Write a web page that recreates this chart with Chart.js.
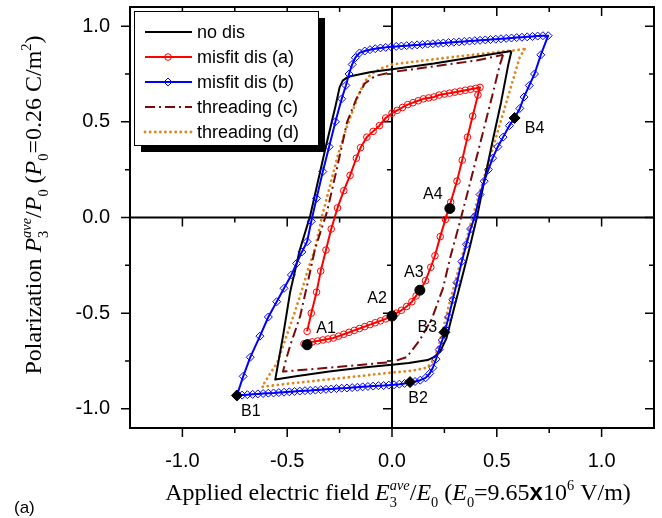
<!DOCTYPE html>
<html>
<head>
<meta charset="utf-8">
<script src="https://cdn.jsdelivr.net/npm/chart.js@4.4.1/dist/chart.umd.min.js"></script>
<style>
  html, body { margin: 0; padding: 0; background: #fff; }
</style>
</head>
<body>
<canvas id="chart" width="662" height="518"></canvas>
<script>
// values
const xTicks = [-1.0, -0.5, 0.0, 0.5, 1.0];
const yTicks = [-1.0, -0.5, 0.0, 0.5, 1.0];

const seriesNames = ['no dis', 'misfit dis (a)', 'misfit dis (b)', 'threading (c)', 'threading (d)'];

const noDisX = [0.57, 0.555, 0.52, 0.48, 0.44, 0.405, 0.37, 0.33, 0.29, 0.26, 0.23, 0.20, 0.17, 0.08, 0.0, -0.15, -0.30, -0.45, -0.557,
  -0.52, -0.486, -0.44, -0.39, -0.32, -0.27, -0.25, -0.235, -0.21, -0.1, 0.0, 0.2, 0.4, 0.57];
const noDisY = [0.87, 0.80, 0.60, 0.40, 0.19, 0.0, -0.16, -0.33, -0.50, -0.63, -0.70, -0.73, -0.745, -0.76, -0.77, -0.785, -0.805, -0.828, -0.847,
  -0.62, -0.39, -0.17, 0.01, 0.35, 0.58, 0.68, 0.715, 0.735, 0.76, 0.775, 0.805, 0.84, 0.87];

const misfitAX = [-0.42, -0.40, -0.38, -0.355, -0.33, -0.305, -0.28, -0.255, -0.23, -0.205, -0.18, -0.155, -0.13, -0.105, -0.08, -0.055, -0.03, -0.005,
  0.02, 0.045, 0.07, 0.095, 0.115, 0.135, 0.16, 0.185, 0.205, 0.23, 0.255, 0.28, 0.31, 0.335, 0.36, 0.385, 0.41, 0.42,
  0.40, 0.375, 0.35, 0.325, 0.30, 0.275, 0.25, 0.225, 0.20, 0.175, 0.15, 0.125, 0.10, 0.075, 0.05, 0.025, 0.0,
  -0.03, -0.06, -0.09, -0.12, -0.15, -0.17, -0.20, -0.23, -0.26, -0.29, -0.315, -0.34, -0.36, -0.385, -0.405];
const misfitAY = [-0.66, -0.655, -0.65, -0.645, -0.64, -0.635, -0.63, -0.62, -0.61, -0.60, -0.59, -0.58, -0.57, -0.56, -0.55, -0.54, -0.53, -0.515,
  -0.50, -0.485, -0.465, -0.44, -0.41, -0.38, -0.33, -0.26, -0.20, -0.10, -0.01, 0.08, 0.19, 0.30, 0.42, 0.53, 0.64, 0.68,
  0.675, 0.67, 0.665, 0.66, 0.655, 0.65, 0.645, 0.64, 0.63, 0.625, 0.62, 0.61, 0.60, 0.59, 0.575, 0.56, 0.545,
  0.52, 0.48, 0.45, 0.42, 0.365, 0.31, 0.22, 0.14, 0.05, -0.06, -0.17, -0.28, -0.39, -0.50, -0.595];

const misfitBX = [-0.74, -0.715, -0.69, -0.665, -0.64, -0.615, -0.59, -0.565, -0.54, -0.515, -0.49, -0.465, -0.44, -0.415, -0.39, -0.365,
  -0.34, -0.315, -0.29, -0.265, -0.24, -0.215, -0.19, -0.165, -0.14, -0.115, -0.09, -0.065, -0.04, -0.015, 0.01, 0.035, 0.06, 0.085,
  0.11, 0.135, 0.16,
  0.18, 0.195, 0.21, 0.225, 0.24, 0.255, 0.27, 0.29, 0.31, 0.333, 0.355, 0.375, 0.395, 0.42, 0.44, 0.46, 0.48, 0.505, 0.53, 0.56,
  0.585, 0.61, 0.63, 0.655, 0.68, 0.71, 0.745,
  0.72, 0.695, 0.67, 0.645, 0.62, 0.595, 0.57, 0.545, 0.52, 0.495, 0.47, 0.445, 0.42, 0.395, 0.37, 0.345, 0.32, 0.295, 0.27, 0.245,
  0.22, 0.195, 0.17, 0.145, 0.12, 0.095, 0.07, 0.045, 0.02, -0.005, -0.03, -0.055, -0.08, -0.105, -0.13, -0.155,
  -0.175, -0.19, -0.205, -0.22, -0.24, -0.27, -0.30, -0.33, -0.36, -0.385, -0.405, -0.43, -0.455, -0.48, -0.515, -0.55, -0.59,
  -0.63, -0.676, -0.71, -0.74];
const misfitBY = [-0.930, -0.928, -0.926, -0.924, -0.922, -0.920, -0.918, -0.917, -0.915, -0.913, -0.911, -0.909, -0.907, -0.905, -0.904, -0.902,
  -0.900, -0.898, -0.896, -0.894, -0.892, -0.891, -0.889, -0.887, -0.885, -0.883, -0.881, -0.879, -0.878, -0.876, -0.874, -0.871, -0.867, -0.862,
  -0.857, -0.850, -0.838,
  -0.815, -0.785, -0.74, -0.69, -0.64, -0.585, -0.52, -0.43, -0.34, -0.23, -0.14, -0.06, 0.005, 0.12, 0.19, 0.25, 0.31, 0.37, 0.42, 0.48,
  0.52, 0.57, 0.63, 0.69, 0.75, 0.85, 0.95,
  0.950, 0.948, 0.946, 0.944, 0.942, 0.940, 0.938, 0.936, 0.934, 0.932, 0.930, 0.928, 0.926, 0.924, 0.922, 0.920, 0.918, 0.916, 0.914, 0.912,
  0.910, 0.908, 0.906, 0.904, 0.902, 0.900, 0.898, 0.896, 0.894, 0.892, 0.889, 0.886, 0.882, 0.877, 0.870, 0.860,
  0.835, 0.80, 0.75, 0.69, 0.62, 0.50, 0.37, 0.24, 0.10, -0.02, -0.126, -0.18, -0.24, -0.30, -0.37, -0.44, -0.52,
  -0.62, -0.73, -0.83, -0.93];

const threadingCX = [0.53, 0.515, 0.47, 0.42, 0.37, 0.32, 0.28, 0.243, 0.19, 0.133, 0.07, 0.0, -0.25, -0.52,
  -0.505, -0.486, -0.438, -0.40, -0.367, -0.31, -0.26, -0.214, -0.17, -0.13, -0.08, 0.0, 0.2, 0.4, 0.53];
const threadingCY = [0.85, 0.80, 0.60, 0.385, 0.17, -0.04, -0.20, -0.37, -0.53, -0.64, -0.73, -0.755, -0.78, -0.805,
  -0.74, -0.67, -0.515, -0.33, -0.163, 0.03, 0.27, 0.50, 0.62, 0.70, 0.74, 0.76, 0.79, 0.82, 0.85];

const threadingDX = [0.633, 0.61, 0.56, 0.51, 0.46, 0.42, 0.38, 0.33, 0.276, 0.24, 0.214, 0.19, 0.167, 0.1, 0.0, -0.25, -0.533, -0.62,
  -0.59, -0.548, -0.51, -0.47, -0.43, -0.40, -0.367, -0.333, -0.295, -0.257, -0.22, -0.19, -0.16, -0.13, -0.10, -0.05, 0.0, 0.3, 0.633];
const threadingDY = [0.88, 0.84, 0.655, 0.47, 0.285, 0.135, -0.015, -0.22, -0.44, -0.60, -0.70, -0.755, -0.785, -0.80, -0.81, -0.84, -0.873, -0.885,
  -0.83, -0.76, -0.64, -0.515, -0.38, -0.27, -0.163, 0.01, 0.17, 0.33, 0.46, 0.55, 0.64, 0.71, 0.75, 0.78, 0.80, 0.84, 0.88];

const aLabels = ['A1', 'A2', 'A3', 'A4'];
const aX = [-0.405, 0.0, 0.133, 0.276];
const aY = [-0.665, -0.515, -0.38, 0.047];
const bLabels = ['B1', 'B2', 'B3', 'B4'];
const bX = [-0.74, 0.086, 0.25, 0.585];
const bY = [-0.93, -0.86, -0.60, 0.52];

// label offsets from their markers, in pixels
const labelShift = { A1: [19, -16], A2: [-15, -17], A3: [-6, -18], A4: [-17, -14],
                     B1: [14, 16], B2: [8, 17], B3: [-17, -5], B4: [20, 11] };

const pts = (xs, ys) => xs.map((v, i) => ({ x: v, y: ys[i] }));
const SANS = '"Liberation Sans", Arial, sans-serif';
const SERIF = '"Liberation Serif", "Times New Roman", serif';

const datasets = [
  { label: 'A', data: pts(aX, aY), pointStyle: 'circle', pointRadius: 5, pointBackgroundColor: '#000', pointBorderColor: '#000', showLine: false, order: 0 },
  { label: 'B', data: pts(bX, bY), pointStyle: 'rectRot', pointRadius: 5.5, pointBackgroundColor: '#000', pointBorderColor: '#000', showLine: false, order: 0 },
  { label: seriesNames[1], data: pts(misfitAX, misfitAY), showLine: true, borderColor: '#ff0000', borderWidth: 2,
    pointStyle: 'circle', pointRadius: 3.3, pointBorderWidth: 1, pointBorderColor: '#ff0000', pointBackgroundColor: 'rgba(0,0,0,0)', order: 1 },
  { label: seriesNames[2], data: pts(misfitBX, misfitBY), showLine: true, borderColor: '#0000ff', borderWidth: 2,
    pointStyle: 'rectRot', pointRadius: 4, pointBorderWidth: 1, pointBorderColor: '#0000ff', pointBackgroundColor: 'rgba(0,0,0,0)', order: 2 },
  { label: seriesNames[0], data: pts(noDisX, noDisY), showLine: true, borderColor: '#000', borderWidth: 2, pointRadius: 0, order: 3 },
  { label: seriesNames[3], data: pts(threadingCX, threadingCY), showLine: true, borderColor: '#7a0a0a', borderWidth: 2,
    borderDash: [10, 4, 2, 4], pointRadius: 0, order: 4 },
  { label: seriesNames[4], data: pts(threadingDX, threadingDY), showLine: true, borderColor: '#e0861c', borderWidth: 2.8,
    borderDash: [0.1, 5], borderCapStyle: 'round', pointRadius: 0, order: 5 }
];

function tickRun(scale, from, to, cb) {
  for (let i = from; i <= to; i++) cb(scale.getPixelForValue(i * 0.25), i % 2 === 0 ? 9 : 5, i);
}

// frame, axes through the origin and all tick marks
const frameAxes = {
  id: 'frameAxes',
  beforeDatasetsDraw(chart) {
    const { ctx, chartArea: a, scales: { x, y } } = chart;
    const x0 = x.getPixelForValue(0), y0 = y.getPixelForValue(0);
    ctx.save();
    ctx.strokeStyle = '#000';
    ctx.lineWidth = 2;
    ctx.beginPath();
    ctx.moveTo(a.left, y0); ctx.lineTo(a.right, y0);
    ctx.moveTo(x0, a.top); ctx.lineTo(x0, a.bottom);
    ctx.stroke();
    ctx.lineWidth = 1.5;
    ctx.beginPath();
    tickRun(x, -4, 4, (p, len, i) => { if (i) { ctx.moveTo(p, y0); ctx.lineTo(p, y0 + len); } });
    tickRun(y, -4, 4, (p, len, i) => { if (i) { ctx.moveTo(x0, p); ctx.lineTo(x0 - len, p); } });
    ctx.stroke();
    ctx.restore();
  },
  afterDatasetsDraw(chart) {
    const { ctx, chartArea: a, scales: { x, y } } = chart;
    ctx.save();
    ctx.strokeStyle = '#000';
    ctx.lineWidth = 2;
    ctx.strokeRect(a.left, a.top, a.right - a.left, a.bottom - a.top);
    ctx.lineWidth = 1.5;
    ctx.beginPath();
    tickRun(x, -4, 4, (p, len) => {
      ctx.moveTo(p, a.bottom); ctx.lineTo(p, a.bottom + len);
      ctx.moveTo(p, a.top); ctx.lineTo(p, a.top + len);
    });
    tickRun(y, -4, 4, (p, len) => {
      ctx.moveTo(a.left, p); ctx.lineTo(a.left - len, p);
      ctx.moveTo(a.right, p); ctx.lineTo(a.right - len, p);
    });
    ctx.stroke();
    ctx.restore();
  }
};

const pointLabels = {
  id: 'pointLabels',
  afterDatasetsDraw(chart) {
    const ctx = chart.ctx;
    ctx.save();
    ctx.font = '16px ' + SANS;
    ctx.fillStyle = '#000';
    ctx.textAlign = 'center';
    ctx.textBaseline = 'middle';
    [[0, aLabels], [1, bLabels]].forEach(([di, names]) => {
      chart.getDatasetMeta(di).data.forEach((el, j) => {
        const s = labelShift[names[j]];
        ctx.fillText(names[j], el.x + s[0], el.y + s[1]);
      });
    });
    ctx.restore();
  }
};

const boxLegend = {
  id: 'boxLegend',
  afterDraw(chart) {
    const ctx = chart.ctx;
    const bx = 134, by = 11, bw = 184, bh = 134;
    ctx.save();
    ctx.fillStyle = '#000';
    ctx.fillRect(bx + 7, by + 7, bw, bh);
    ctx.fillStyle = '#fff';
    ctx.fillRect(bx, by, bw, bh);
    ctx.strokeStyle = '#000';
    ctx.lineWidth = 1;
    ctx.strokeRect(bx + 0.5, by + 0.5, bw, bh);
    seriesNames.forEach((name, i) => {
      const ds = chart.data.datasets.find(d => d.label === name);
      const ry = by + 21 + i * 25;
      ctx.save();
      ctx.strokeStyle = ds.borderColor;
      ctx.lineWidth = ds.borderWidth;
      ctx.setLineDash(ds.borderDash || []);
      ctx.lineCap = ds.borderCapStyle || 'butt';
      ctx.beginPath();
      ctx.moveTo(145, ry); ctx.lineTo(192, ry);
      ctx.stroke();
      ctx.restore();
      if (ds.pointRadius) {
        ctx.save();
        ctx.strokeStyle = ds.pointBorderColor;
        ctx.fillStyle = 'rgba(0,0,0,0)';
        ctx.lineWidth = 1;
        Chart.helpers.drawPoint(ctx, { pointStyle: ds.pointStyle, radius: ds.pointRadius, borderWidth: 1, rotation: 0 }, 168, ry);
        ctx.restore();
      }
      ctx.fillStyle = '#000';
      ctx.font = '18px ' + SANS;
      ctx.textBaseline = 'middle';
      ctx.textAlign = 'left';
      ctx.fillText(name, 197, ry + 1);
    });
    ctx.restore();
  }
};

// axis titles with italics, subscripts and superscripts
const yTitle = [
  { t: 'Polarization ' }, { t: 'P', it: true }, { t: '3', pos: 'sub' }, { t: 'ave', it: true, pos: 'sup', stack: true },
  { t: '/' }, { t: 'P', it: true }, { t: '0', pos: 'sub' }, { t: ' (' }, { t: 'P', it: true }, { t: '0', pos: 'sub' },
  { t: '=0.26 C/m' }, { t: '2', pos: 'sup' }, { t: ')' }
];
const xTitle = [
  { t: 'Applied electric field ' }, { t: 'E', it: true }, { t: '3', pos: 'sub' }, { t: 'ave', it: true, pos: 'sup', stack: true },
  { t: '/' }, { t: 'E', it: true }, { t: '0', pos: 'sub' }, { t: ' (' }, { t: 'E', it: true }, { t: '0', pos: 'sub' },
  { t: '=9.65' }, { t: 'x', sans: true, bold: true }, { t: '10' }, { t: '6', pos: 'sup' }, { t: ' V/m)' }
];

function fontFor(s, fs) {
  if (s.sans) return (s.bold ? 'bold ' : '') + fs + 'px ' + SANS;
  return (s.it ? 'italic ' : '') + fs + 'px ' + SERIF;
}

function drawRich(ctx, segs, size, cx, cy, angle) {
  let x = 0, prevStart = 0;
  const items = segs.map(s => {
    const fs = s.pos ? size * 0.6 : size;
    ctx.font = fontFor(s, fs);
    const w = ctx.measureText(s.t).width;
    let start;
    if (s.stack) { start = prevStart; x = Math.max(x, start + w); }
    else { start = x; x = start + w; }
    prevStart = start;
    return { s, fs, start };
  });
  const total = x;
  ctx.save();
  ctx.translate(cx, cy);
  ctx.rotate(angle);
  ctx.fillStyle = '#000';
  ctx.textAlign = 'left';
  ctx.textBaseline = 'alphabetic';
  items.forEach(it => {
    ctx.font = fontFor(it.s, it.fs);
    const dy = it.s.pos === 'sub' ? size * 0.3 : it.s.pos === 'sup' ? -size * 0.42 : 0;
    ctx.fillText(it.s.t, it.start - total / 2, dy);
  });
  ctx.restore();
}

const titles = {
  id: 'titles',
  afterDraw(chart) {
    const ctx = chart.ctx;
    drawRich(ctx, xTitle, 24, 398, 500, 0);
    drawRich(ctx, yTitle, 24, 41, 205, -Math.PI / 2);
    ctx.save();
    ctx.font = '17px ' + SANS;
    ctx.fillStyle = '#000';
    ctx.fillText('(a)', 14, 513);
    ctx.restore();
  }
};

const tickFont = { family: SANS, size: 20 };

new Chart(document.getElementById('chart'), {
  type: 'scatter',
  data: { datasets },
  options: {
    responsive: false,
    animation: false,
    layout: { padding: { top: 7, right: 8, left: 0, bottom: 0 } },
    plugins: { legend: { display: false }, tooltip: { enabled: false } },
    elements: { line: { borderJoinStyle: 'round' } },
    scales: {
      x: {
        type: 'linear', min: -1.25, max: 1.25,
        afterBuildTicks: s => { s.ticks = xTicks.map(v => ({ value: v })); },
        afterFit: s => { s.height = 90; s.paddingLeft = 0; s.paddingRight = 0; },
        grid: { display: false, drawTicks: false },
        border: { display: false },
        ticks: { font: tickFont, color: '#000', padding: 21, autoSkip: false, maxRotation: 0, callback: v => v.toFixed(1) }
      },
      y: {
        type: 'linear', min: -1.1, max: 1.1,
        afterBuildTicks: s => { s.ticks = yTicks.map(v => ({ value: v })); },
        afterFit: s => { s.width = 130; s.paddingTop = 0; s.paddingBottom = 0; },
        grid: { display: false, drawTicks: false },
        border: { display: false },
        ticks: { font: tickFont, color: '#000', padding: 20, autoSkip: false, callback: v => v.toFixed(1) }
      }
    }
  },
  plugins: [frameAxes, pointLabels, boxLegend, titles]
});
</script>
</body>
</html>
